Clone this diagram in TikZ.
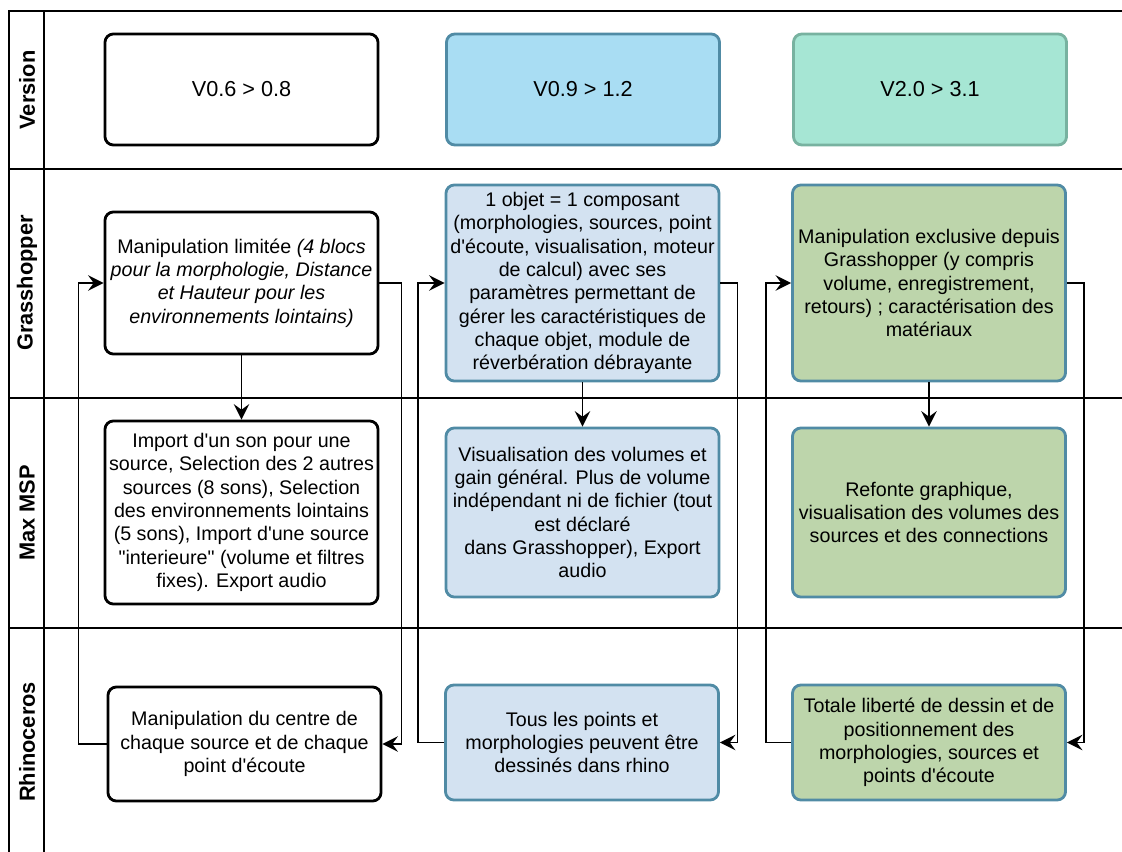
\documentclass[tikz,border=0pt]{standalone}
\usepackage{fontspec}
\setmainfont{Liberation Sans}
\usepackage{tikz}
\usetikzlibrary{arrows.meta}
\definecolor{bleuvif}{RGB}{169,221,243}
\definecolor{bleupale}{RGB}{211,226,241}
\definecolor{menthe}{RGB}{166,230,212}
\definecolor{vert}{RGB}{189,213,171}
\definecolor{bordbleu}{RGB}{80,139,165}
\definecolor{bordmenthe}{RGB}{120,178,160}
\newcommand{\ap}{\textquotesingle}

\begin{document}
\begin{tikzpicture}[>={Stealth[length=11pt,width=11pt,inset=4pt]},->,line width=1.3pt,
x=0.025cm,y=-0.025cm,font=\fontsize{14}{16.6}\selectfont]
\tikzstyle{bloc}=[draw=black,fill=white,text=black,line width=2pt,rounded corners=6pt,
align=center,inner sep=0pt,minimum width=6.825cm]
\tikzstyle{bleu}=[bloc,draw=bordbleu,fill=bleuvif]
\tikzstyle{menthe}=[bloc,draw=bordmenthe,fill=menthe]
\tikzstyle{pale}=[bloc,draw=bordbleu,fill=bleupale]
\tikzstyle{vert}=[bloc,draw=bordbleu,fill=vert]
\tikzstyle{ligne}=[font=\fontsize{15.5}{18}\selectfont\bfseries,rotate=90]
\tikzstyle{titre}=[font=\fontsize{15.4}{18}\selectfont]

\useasboundingbox (0,0) rectangle (1122,852);

% couloirs
\draw[-] (1122,11) -- (9,11) -- (9,852) (44,11) -- (44,852)
(9,169) -- (1122,169) (9,398) -- (1122,398) (9,628) -- (1122,628);

\node[ligne] (lv) at (27,90)  {Version};
\node[ligne] (lg) at (27,283) {Grasshopper};
\node[ligne] (lm) at (27,513) {Max MSP};
\node[ligne] (lr) at (27,742) {Rhinoceros};

% versions
\node[bloc,titre,minimum height=2.775cm]   (v1) at (241.5,89.5) {V0.6 > 0.8};
\node[bleu,titre,minimum height=2.775cm]   (v2) at (583,89.5)   {V0.9 > 1.2};
\node[menthe,titre,minimum height=2.775cm] (v3) at (930,89.5)   {V2.0 > 3.1};

% grasshopper
\node[bloc,minimum height=3.55cm] (g1) at (241.5,283) {Manipulation limitée \textit{(4 blocs}\\
\textit{pour la morphologie, Distance}\\\textit{et Hauteur pour les}\\\textit{environnements lointains)}};
\node[pale,minimum height=4.9cm] (g2) at (582.5,283) {1 objet = 1 composant\\(morphologies, sources, point\\
d\ap écoute, visualisation, moteur\\de calcul) avec ses\\paramètres permettant de\\
gérer les caractéristiques de\\chaque objet, module de\\réverbération débrayante};
\node[vert,minimum height=4.9cm] (g3) at (929,283) {Manipulation exclusive depuis\\Grasshopper (y compris\\
volume, enregistrement,\\retours) ; caractérisation des\\matériaux};

% max msp
\node[bloc,minimum height=4.575cm] (m1) at (241.5,512.5) {Import d\ap un son pour une\\
source, Selection des 2 autres\\sources (8 sons), Selection\\des environnements lointains\\
(5 sons), Import d\ap une source\\\textquotedbl interieure\textquotedbl\ (volume et filtres\\fixes). Export audio};
\node[pale,minimum height=4.225cm] (m2) at (582.5,512.5) {Visualisation des volumes et\\
gain général. Plus de volume\\indépendant ni de fichier (tout\\est déclaré\\
dans Grasshopper), Export\\audio};
\node[vert,minimum height=4.225cm] (m3) at (929,512.5) {Refonte graphique,\\
visualisation des volumes des\\sources et des connections};

% rhinoceros
\node[bloc,minimum height=2.85cm]  (r1) at (244.5,744) {Manipulation du centre de\\
chaque source et de chaque\\point d\ap écoute};
\node[pale,minimum height=2.875cm] (r2) at (582,742.5) {Tous les points et\\
morphologies peuvent être\\dessinés dans rhino};
\node[vert,minimum height=2.875cm] (r3) at (929,742.5) {Totale liberté de dessin et de\\
positionnement des\\morphologies, sources et\\points d\ap écoute};

\path
(g1) edge (m1)
(g2) edge (m2)
(g3) edge (m3);

\draw (r1.west) -- ++(-28,0) |- (g1.west);
\draw (g1.east) -- ++(22,0) |- (r1.east);
\draw (r2.west) -- ++(-26,0) |- (g2.west);
\draw (g2.east) -- ++(17,0) |- (r2.east);
\draw (r3.west) -- ++(-25,0) |- (g3.west);
\draw (g3.east) -- ++(17,0) |- (r3.east);
\end{tikzpicture}
\end{document}
